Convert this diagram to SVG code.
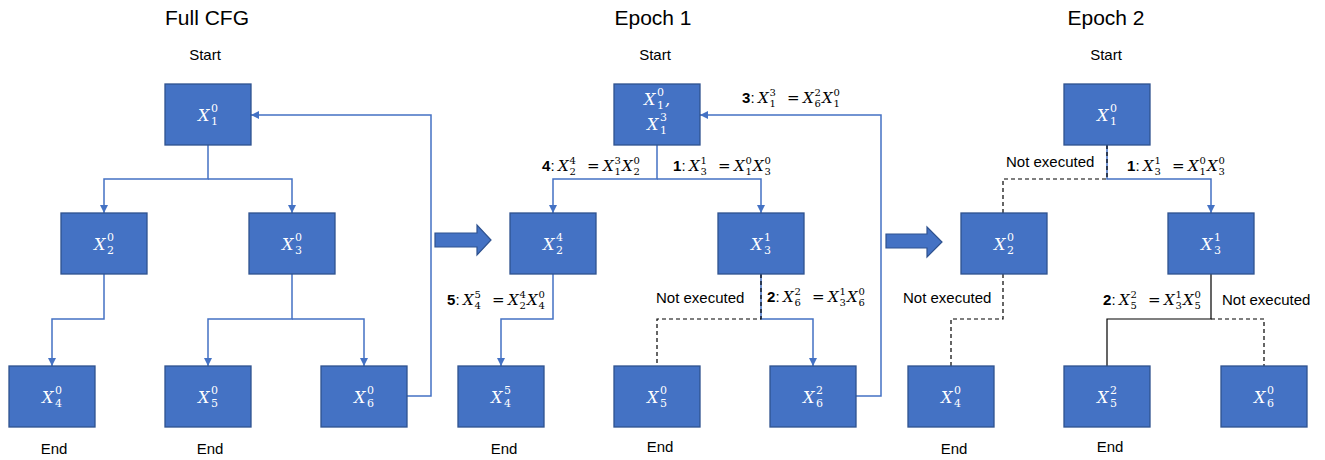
<svg xmlns="http://www.w3.org/2000/svg" width="1325" height="460" viewBox="0 0 1325 460">
<defs>
<style>
.box{fill:#4472C4;stroke:#2F528F;stroke-width:1.3}
.mx{font-family:"DejaVu Serif","Liberation Serif",serif;font-style:italic;font-size:15px;fill:#000}
.nd{fill:#fff;font-size:16px}
.dg{font-style:normal;font-size:10px}
.nd .dg{font-size:11px}
.eq{font-style:normal}
.t{font-family:"Liberation Sans",Arial,sans-serif;font-size:15px;fill:#000}
.c{text-anchor:middle}
.title{font-size:21px}
.b{font-weight:bold}
.ln{fill:none;stroke:#4472C4;stroke-width:1.5}
.dsh{fill:none;stroke:#000;stroke-width:1.2;stroke-dasharray:4 3}
.bk{fill:none;stroke:#000;stroke-width:1.2}
.big{fill:#4472C4;stroke:#2F528F;stroke-width:1.2}
</style>
<marker id="ah" markerUnits="userSpaceOnUse" markerWidth="9" markerHeight="9" refX="8" refY="4" orient="auto">
<path d="M0,0 L8,4 L0,8 z" fill="#4472C4"/>
</marker>
</defs>

<g id="labels">
<text class="t c title" x="207" y="25">Full CFG</text>
<text class="t c title" x="653" y="25">Epoch 1</text>
<text class="t c title" x="1106" y="25">Epoch 2</text>
<text class="t c" x="205" y="60">Start</text>
<text class="t c" x="655" y="60">Start</text>
<text class="t c" x="1106" y="60">Start</text>
<text class="t c" x="54" y="454">End</text>
<text class="t c" x="210" y="454">End</text>
<text class="t c" x="504" y="454">End</text>
<text class="t c" x="660" y="452">End</text>
<text class="t c" x="954" y="454">End</text>
<text class="t c" x="1110" y="452">End</text>
<text class="t" x="656" y="303">Not executed</text>
<text class="t" x="1006" y="167">Not executed</text>
<text class="t" x="903" y="303">Not executed</text>
<text class="t" x="1222" y="305">Not executed</text>
</g>

<g id="stepArrows">
<polygon class="big" points="435,233 477,233 477,225 491,240 477,255 477,247 435,247"/>
<polygon class="big" points="886,234 927,234 927,227 942,242 927,257 927,248 886,248"/>
</g>

<g id="connectors">
<path class="ln" d="M208,145 V179 H104 V213" marker-end="url(#ah)"/>
<path class="ln" d="M208,179 H292 V213" marker-end="url(#ah)"/>
<path class="ln" d="M104,274 V319 H52 V366" marker-end="url(#ah)"/>
<path class="ln" d="M292,274 V319 H208 V366" marker-end="url(#ah)"/>
<path class="ln" d="M292,319 H364 V366" marker-end="url(#ah)"/>
<path class="ln" d="M407,396 H431 V115 H251" marker-end="url(#ah)"/>
<path class="ln" d="M657,145 V179 H553 V213" marker-end="url(#ah)"/>
<path class="ln" d="M657,179 H761 V213" marker-end="url(#ah)"/>
<path class="ln" d="M553,274 V319 H501 V366" marker-end="url(#ah)"/>
<path class="ln" d="M761,274 V319 H813 V366" marker-end="url(#ah)"/>
<path class="dsh" d="M761,274 V319 H657 V366"/>
<path class="ln" d="M856,396 H881 V115 H700" marker-end="url(#ah)"/>
<path class="ln" d="M1107,145 V179 H1211 V213" marker-end="url(#ah)"/>
<path class="dsh" d="M1107,145 V179 H1003 V213"/>
<path class="dsh" d="M1003,274 V319 H951 V366"/>
<path class="bk" d="M1211,274 V319 H1107 V366"/>
<path class="dsh" d="M1211,319 H1264 V366"/>
</g>

<g id="edgeLabels">
<text class="t b" x="742" y="103">3</text><text class="t" x="750.5" y="103">:</text>
<text class="mx"><tspan x="758" y="103">X</tspan><tspan class="dg" x="769.5" y="107">1</tspan><tspan class="dg" x="769.5" y="96">3</tspan><tspan class="eq" x="787" y="103">=</tspan><tspan x="803" y="103">X</tspan><tspan class="dg" x="814.5" y="107">6</tspan><tspan class="dg" x="814.5" y="96">2</tspan><tspan x="822" y="103">X</tspan><tspan class="dg" x="833.5" y="107">1</tspan><tspan class="dg" x="833.5" y="96">0</tspan></text>

<text class="t b" x="542" y="171">4</text><text class="t" x="550.5" y="171">:</text>
<text class="mx"><tspan x="558" y="171">X</tspan><tspan class="dg" x="569.5" y="175">2</tspan><tspan class="dg" x="569.5" y="164">4</tspan><tspan class="eq" x="587" y="171">=</tspan><tspan x="603" y="171">X</tspan><tspan class="dg" x="614.5" y="175">1</tspan><tspan class="dg" x="614.5" y="164">3</tspan><tspan x="622" y="171">X</tspan><tspan class="dg" x="633.5" y="175">2</tspan><tspan class="dg" x="633.5" y="164">0</tspan></text>

<text class="t b" x="673" y="171">1</text><text class="t" x="681.5" y="171">:</text>
<text class="mx"><tspan x="689" y="171">X</tspan><tspan class="dg" x="700.5" y="175">3</tspan><tspan class="dg" x="700.5" y="164">1</tspan><tspan class="eq" x="718" y="171">=</tspan><tspan x="734" y="171">X</tspan><tspan class="dg" x="745.5" y="175">1</tspan><tspan class="dg" x="745.5" y="164">0</tspan><tspan x="753" y="171">X</tspan><tspan class="dg" x="764.5" y="175">3</tspan><tspan class="dg" x="764.5" y="164">0</tspan></text>

<text class="t b" x="447" y="305">5</text><text class="t" x="455.5" y="305">:</text>
<text class="mx"><tspan x="463" y="305">X</tspan><tspan class="dg" x="474.5" y="309">4</tspan><tspan class="dg" x="474.5" y="298">5</tspan><tspan class="eq" x="492" y="305">=</tspan><tspan x="508" y="305">X</tspan><tspan class="dg" x="519.5" y="309">2</tspan><tspan class="dg" x="519.5" y="298">4</tspan><tspan x="527" y="305">X</tspan><tspan class="dg" x="538.5" y="309">4</tspan><tspan class="dg" x="538.5" y="298">0</tspan></text>

<text class="t b" x="767" y="302">2</text><text class="t" x="775.5" y="302">:</text>
<text class="mx"><tspan x="783" y="302">X</tspan><tspan class="dg" x="794.5" y="306">6</tspan><tspan class="dg" x="794.5" y="295">2</tspan><tspan class="eq" x="812" y="302">=</tspan><tspan x="828" y="302">X</tspan><tspan class="dg" x="839.5" y="306">3</tspan><tspan class="dg" x="839.5" y="295">1</tspan><tspan x="847" y="302">X</tspan><tspan class="dg" x="858.5" y="306">6</tspan><tspan class="dg" x="858.5" y="295">0</tspan></text>

<text class="t b" x="1127" y="171">1</text><text class="t" x="1135.5" y="171">:</text>
<text class="mx"><tspan x="1143" y="171">X</tspan><tspan class="dg" x="1154.5" y="175">3</tspan><tspan class="dg" x="1154.5" y="164">1</tspan><tspan class="eq" x="1172" y="171">=</tspan><tspan x="1188" y="171">X</tspan><tspan class="dg" x="1199.5" y="175">1</tspan><tspan class="dg" x="1199.5" y="164">0</tspan><tspan x="1207" y="171">X</tspan><tspan class="dg" x="1218.5" y="175">3</tspan><tspan class="dg" x="1218.5" y="164">0</tspan></text>

<text class="t b" x="1103" y="305">2</text><text class="t" x="1111.5" y="305">:</text>
<text class="mx"><tspan x="1119" y="305">X</tspan><tspan class="dg" x="1130.5" y="309">5</tspan><tspan class="dg" x="1130.5" y="298">2</tspan><tspan class="eq" x="1148" y="305">=</tspan><tspan x="1164" y="305">X</tspan><tspan class="dg" x="1175.5" y="309">3</tspan><tspan class="dg" x="1175.5" y="298">1</tspan><tspan x="1183" y="305">X</tspan><tspan class="dg" x="1194.5" y="309">5</tspan><tspan class="dg" x="1194.5" y="298">0</tspan></text>
</g>

<g id="p1_x1"><rect class="box" x="165" y="84" width="86" height="61"/><text class="mx nd"><tspan x="198" y="121">X</tspan><tspan class="dg" x="211" y="125">1</tspan><tspan class="dg" x="211" y="112">0</tspan></text></g>
<g id="p1_x2"><rect class="box" x="61" y="213" width="86" height="61"/><text class="mx nd"><tspan x="94" y="250">X</tspan><tspan class="dg" x="107" y="254">2</tspan><tspan class="dg" x="107" y="241">0</tspan></text></g>
<g id="p1_x3"><rect class="box" x="249" y="213" width="86" height="61"/><text class="mx nd"><tspan x="282" y="250">X</tspan><tspan class="dg" x="295" y="254">3</tspan><tspan class="dg" x="295" y="241">0</tspan></text></g>
<g id="p1_x4"><rect class="box" x="9" y="366" width="86" height="61"/><text class="mx nd"><tspan x="42" y="403">X</tspan><tspan class="dg" x="55" y="407">4</tspan><tspan class="dg" x="55" y="394">0</tspan></text></g>
<g id="p1_x5"><rect class="box" x="165" y="366" width="86" height="61"/><text class="mx nd"><tspan x="198" y="403">X</tspan><tspan class="dg" x="211" y="407">5</tspan><tspan class="dg" x="211" y="394">0</tspan></text></g>
<g id="p1_x6"><rect class="box" x="321" y="366" width="86" height="61"/><text class="mx nd"><tspan x="354" y="403">X</tspan><tspan class="dg" x="367" y="407">6</tspan><tspan class="dg" x="367" y="394">0</tspan></text></g>

<g id="p2_x1"><rect class="box" x="614" y="84" width="86" height="61"/><text class="mx nd"><tspan x="644" y="105">X</tspan><tspan class="dg" x="657" y="109">1</tspan><tspan class="dg" x="657" y="96">0</tspan><tspan x="665" y="105">,</tspan><tspan x="647" y="130">X</tspan><tspan class="dg" x="660" y="134">1</tspan><tspan class="dg" x="660" y="121">3</tspan></text></g>
<g id="p2_x2"><rect class="box" x="510" y="213" width="86" height="61"/><text class="mx nd"><tspan x="543" y="250">X</tspan><tspan class="dg" x="556" y="254">2</tspan><tspan class="dg" x="556" y="241">4</tspan></text></g>
<g id="p2_x3"><rect class="box" x="718" y="213" width="86" height="61"/><text class="mx nd"><tspan x="751" y="250">X</tspan><tspan class="dg" x="764" y="254">3</tspan><tspan class="dg" x="764" y="241">1</tspan></text></g>
<g id="p2_x4"><rect class="box" x="458" y="366" width="86" height="61"/><text class="mx nd"><tspan x="491" y="403">X</tspan><tspan class="dg" x="504" y="407">4</tspan><tspan class="dg" x="504" y="394">5</tspan></text></g>
<g id="p2_x5"><rect class="box" x="614" y="366" width="86" height="61"/><text class="mx nd"><tspan x="647" y="403">X</tspan><tspan class="dg" x="660" y="407">5</tspan><tspan class="dg" x="660" y="394">0</tspan></text></g>
<g id="p2_x6"><rect class="box" x="770" y="366" width="86" height="61"/><text class="mx nd"><tspan x="803" y="403">X</tspan><tspan class="dg" x="816" y="407">6</tspan><tspan class="dg" x="816" y="394">2</tspan></text></g>

<g id="p3_x1"><rect class="box" x="1064" y="84" width="86" height="61"/><text class="mx nd"><tspan x="1097" y="121">X</tspan><tspan class="dg" x="1110" y="125">1</tspan><tspan class="dg" x="1110" y="112">0</tspan></text></g>
<g id="p3_x2"><rect class="box" x="961" y="213" width="86" height="61"/><text class="mx nd"><tspan x="994" y="250">X</tspan><tspan class="dg" x="1007" y="254">2</tspan><tspan class="dg" x="1007" y="241">0</tspan></text></g>
<g id="p3_x3"><rect class="box" x="1168" y="213" width="86" height="61"/><text class="mx nd"><tspan x="1201" y="250">X</tspan><tspan class="dg" x="1214" y="254">3</tspan><tspan class="dg" x="1214" y="241">1</tspan></text></g>
<g id="p3_x4"><rect class="box" x="908" y="366" width="86" height="61"/><text class="mx nd"><tspan x="941" y="403">X</tspan><tspan class="dg" x="954" y="407">4</tspan><tspan class="dg" x="954" y="394">0</tspan></text></g>
<g id="p3_x5"><rect class="box" x="1064" y="366" width="86" height="61"/><text class="mx nd"><tspan x="1097" y="403">X</tspan><tspan class="dg" x="1110" y="407">5</tspan><tspan class="dg" x="1110" y="394">2</tspan></text></g>
<g id="p3_x6"><rect class="box" x="1221" y="366" width="86" height="61"/><text class="mx nd"><tspan x="1254" y="403">X</tspan><tspan class="dg" x="1267" y="407">6</tspan><tspan class="dg" x="1267" y="394">0</tspan></text></g>
</svg>
